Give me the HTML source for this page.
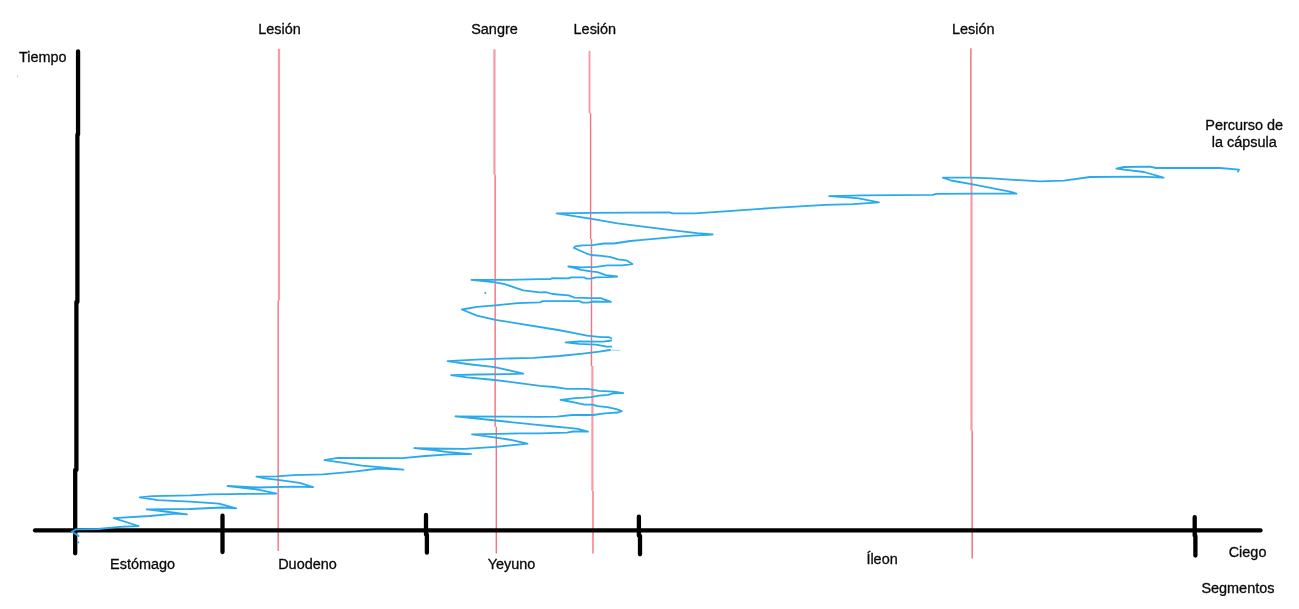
<!DOCTYPE html>
<html><head><meta charset="utf-8">
<style>
html,body{margin:0;padding:0;background:#fff;}
body{width:1299px;height:609px;overflow:hidden;}
svg{display:block;}
text{font-family:"Liberation Sans",sans-serif;font-size:14.45px;fill:#0a0a0a;stroke:#0a0a0a;stroke-width:0.3px;}
</style></head><body>
<svg width="1299" height="609" viewBox="0 0 1299 609">
<rect width="1299" height="609" fill="#fff"/>
<!-- red marker lines -->
<g fill="none">
<path stroke="#f99aa3" stroke-width="2.2" d="M279,48.8 V300.5"/><path stroke="#f5737f" stroke-width="1.4" d="M278.2,300.5 V551"/>
<path stroke="#f99aa3" stroke-width="2.2" d="M494.45,49.3 V174.8"/><path stroke="#f5737f" stroke-width="1.4" d="M495.15,174.8 V426.7 M496.3,426.7 V553.5"/>
<path stroke="#f99aa3" stroke-width="1.9" d="M589.5,50.8 V113.3"/><path stroke="#f5737f" stroke-width="1.4" d="M590.6,113.3 V239.1 M591.5,239.1 V366 M593,490.7 V553.6"/><path stroke="#f99aa3" stroke-width="2.2" d="M592.4,366 V490.7"/>
<path stroke="#f5737f" stroke-width="1.5" d="M970.85,48.2 V177.8 M972.2,430.5 V558.5"/><path stroke="#f99aa3" stroke-width="2.2" d="M971.5,177.8 V430.5"/>
</g>
<!-- axes -->
<g fill="none" stroke="#000" stroke-width="4.3" stroke-linecap="round">
<path d="M78.05,51.3 L78.05,134.6 M77.4,134.6 L77.4,302 M76.4,302 L76.4,470 M75.2,470 L75.2,553.3"/>
<path d="M35,530.4 L1260.5,530.4"/>
<path d="M222.5,515.7 L222.5,552"/>
<path d="M426,514.95 L426,534.6 M426.9,534.6 L426.9,552.7"/>
<path d="M638.9,516.55 L638.9,535.8 M640,535.8 L640,554.3"/>
<path d="M1194.7,517.25 L1194.7,535.7 M1195.4,535.7 L1195.4,555.5"/>
</g>
<!-- capsule path -->
<g fill="none" stroke="#2aa9eb" stroke-width="1.8" stroke-linejoin="round" stroke-linecap="round">
<polyline points="78.5,536 74.5,533.2 71.8,531.7 76.2,529.3 98,529 120,526.9 138.5,526 113.7,518.1 150,516 175,513.6 187,514.4 165,511.5 146.6,509.4 190,509 222,507.5 236.2,508.3 219,503.7 190,501.6 158.2,500.2 139.7,497.3 152.4,496.2 190,495.4 210,494.4 247.7,493.9 276.6,493.6 259.3,489.8 227.5,486 259.3,487.5 293.9,486.7 313,487.2 299.7,482.9 277.8,479.8 265,478.3 256.4,476.6 276.6,476.3 293.9,475.2 322.8,474.4 340,472.8 356.2,471.4 379.3,468.5 403.5,469.7 381.6,467.3 362,465.6 338.9,462.1 324.4,460.2 337.7,457.9 402.4,458.1 425.5,456 448.6,454.3 471.1,454.1 446.2,451.9 433.3,450 414.4,448.2 464.7,448.8 496,446.9 527.5,443.6 510.9,439.9 496,437.7 472,434.3 520.1,433.4 540,433.3 567.1,432.6 572.8,431.5 581,431.4 588,431.6 577.8,428.9 571.2,428.1 554,426.5 540,425.2 496,420.5 455.4,416.4 540,416.9 557.2,416.6 572,415 593.4,415 602.4,413.7 611.4,412.9 618,412.5 621.7,411.1 616.4,409.2 607.3,407.2 597.5,406.2 592.5,404.7 584.3,404.7 575.3,402.7 567.1,401 560.5,399.9 575.3,398.1 584.3,397.7 590.9,397.2 599.1,395.7 608.1,394.9 613.1,393.4 623.3,393.2 613.9,391.6 599.1,390.9 587.6,388.9 567.1,388.9 554,387 540,385.8 494.7,380 467,377.3 451.2,375.1 478,374.5 507.6,374.1 523.3,373.6 509.4,370.3 494.7,367.1 467,364 447.6,361.2 476.2,359.7 494.7,358.8 533.5,357.9 559.3,356 582.8,353.7 599.3,351.6 609.9,350"/>
<polyline points="611.2,346.7 606.7,346.7 596,344.6 578.7,343.8 565.6,342.3 578.7,341.5 603.4,341.6 611.2,340.5"/>
<polyline points="611.2,338.2 609.1,337.2 600.9,337.2 586.9,335.6 574.6,333.1 558.2,330 495.4,319.8 477,315.6 461.8,309.5 477,306.9 495.4,305.4 517.6,303.2 540,302.4 542.5,301.1 579.4,301.1 582.7,302.6 588.4,302.6 593.4,301.5 611,301.8 600.8,298.2 590.9,298.1 574.5,297.7 568.7,295.3 552.3,294 545.7,292.2 540,292.3 523.1,290.3 504.7,284.2 495.4,282.3 471.4,279.9 504.7,279.9 540,279.2 550.7,279.1 552.3,278.1 568.7,278.3 571.2,277.3 584.3,277.3 586,278.5 590.9,278.7 595.8,277.4 609,277.2 617.2,276.5 605.7,275.1 597.5,272.2 590.9,271.4 581.1,269.8 575.3,268.1 568.3,266.5 581.1,267.3 596.7,266.9 607.3,265.4 622.1,265.3 632.4,264.1 626.2,260.3 618,259.3 609.8,256.9 601.6,255.8 590.9,255 586,253.3 578.6,250 573.7,247.8 575.3,246.3 582.7,245.4 592.5,245.1 604,243.5 613.9,243.5 630.3,241 640,240.2 650.9,239.1 687.8,235.8 712.7,234.5 697,233.2 669.3,229.9 617.6,223.4 591.7,218.8 556.6,213.3 591.7,212.9 669.3,212.3 673,213.3 695.2,213.3 724.8,211.4 770,208.2 825.4,204.9 853.1,204.1 879,202.3 858.7,198.4 843.9,197.1 829.1,196.2 862.4,195.3 932.6,194.9 936.3,193.8 1010,193.4 1016.4,193.6 1010,191.6 971.4,184.2 951.1,180.5 942.8,177.7 971.4,177.7 991.7,178.3 1010,179.6 1040,181.4 1064,180.6 1090,177 1140,176.6 1163.6,177.6 1144,172 1124,169.6 1116.4,168.6 1124,167 1150,166.6 1156,168 1220,168 1239,169.6 1238,171.6"/>
<path d="M609.9,350 L620,350.4" stroke-width="0.7" opacity="0.7"/>
</g>
<circle cx="78.2" cy="542.4" r="1.1" fill="#2aa9eb"/>
<circle cx="485.3" cy="292.9" r="1" fill="#2aa9eb"/>
<rect x="17.2" y="75" width="0.9" height="2.6" fill="#d2d2d2"/>
<!-- labels -->
<g style="will-change:transform">
<text x="19" y="61.8">Tiempo</text>
<text x="258.3" y="34.2">Lesión</text>
<text x="471.2" y="34.2">Sangre</text>
<text x="573.6" y="34.2">Lesión</text>
<text x="951.95" y="34.3">Lesión</text>
<text x="1244.2" y="129.9" text-anchor="middle">Percurso de</text>
<text x="1244.2" y="146.5" text-anchor="middle">la cápsula</text>
<text x="110.1" y="568.8">Estómago</text>
<text x="278.2" y="568.8">Duodeno</text>
<text x="487.65" y="568.8">Yeyuno</text>
<text x="866.4" y="563.65">Íleon</text>
<text x="1228.7" y="556.8">Ciego</text>
<text x="1201.4" y="592.5">Segmentos</text>
</g>
</svg>
</body></html>
